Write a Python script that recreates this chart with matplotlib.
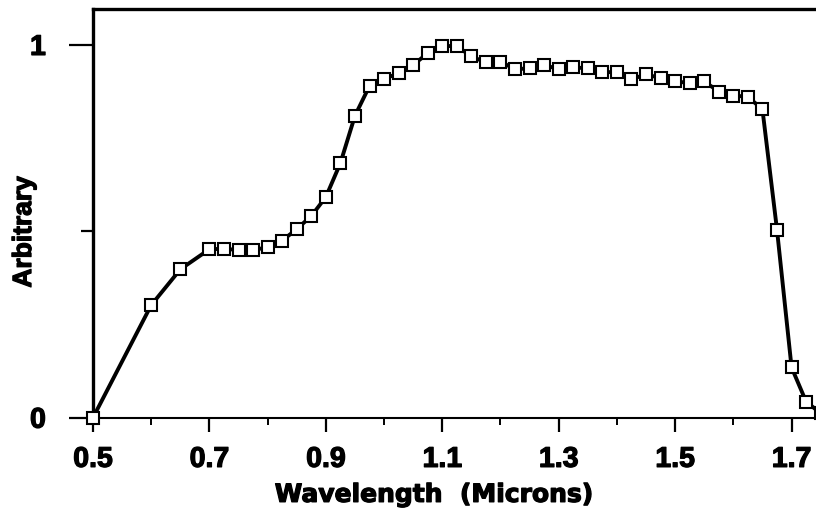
import matplotlib
matplotlib.use("Agg")
import matplotlib.pyplot as plt
import matplotlib.patheffects as pe

# data
wavelength = [0.5, 0.6, 0.65, 0.7, 0.725, 0.75, 0.775, 0.8, 0.825, 0.85,
              0.875, 0.9, 0.925, 0.95, 0.975, 1.0, 1.025, 1.05, 1.075, 1.1,
              1.125, 1.15, 1.175, 1.2, 1.225, 1.25, 1.275, 1.3, 1.325, 1.35,
              1.375, 1.4, 1.425, 1.45, 1.475, 1.5, 1.525, 1.55, 1.575, 1.6,
              1.625, 1.65, 1.675, 1.7, 1.725, 1.75]
response = [0.0, 0.302, 0.398, 0.452, 0.453, 0.450, 0.450, 0.457, 0.475, 0.506,
            0.541, 0.592, 0.683, 0.810, 0.890, 0.909, 0.924, 0.946, 0.978, 0.997,
            0.997, 0.969, 0.953, 0.955, 0.935, 0.937, 0.946, 0.935, 0.940, 0.937,
            0.927, 0.927, 0.908, 0.921, 0.911, 0.903, 0.897, 0.902, 0.875, 0.864,
            0.861, 0.827, 0.504, 0.135, 0.043, 0.012]

xticks = [0.5, 0.7, 0.9, 1.1, 1.3, 1.5, 1.7]
xticklabels = ['0.5', '0.7', '0.9', '1.1', '1.3', '1.5', '1.7']
xminor = [0.6, 0.8, 1.0, 1.2, 1.4, 1.6]
yticks = [0, 1]
yticklabels = ['0', '1']
yminor = [0.5]

font = 'Liberation Sans'
heavy = [pe.withStroke(linewidth=0.9, foreground='black')]

fig = plt.figure(figsize=(8.16, 5.11), dpi=100)
ax = fig.add_axes([93 / 816, 1 - 417.7 / 511, 1 - 93 / 816, (417.7 - 9.5) / 511])

ax.plot(wavelength, response, color='black', lw=2.8, marker='s', ms=8,
        mfc='white', mec='black', mew=1.5, clip_on=False, zorder=3)

ax.set_xlim(0.5, 1.742)
ax.set_ylim(0, 1.095)

ax.spines['right'].set_visible(False)
ax.spines['left'].set_linewidth(2.4)
ax.spines['top'].set_linewidth(2.4)
ax.spines['bottom'].set_linewidth(1.5)

ax.set_xticks(xticks)
ax.set_xticklabels(xticklabels, fontfamily=font, fontweight='bold', fontsize=20.5,
                   path_effects=heavy)
ax.set_xticks(xminor, minor=True)
ax.set_yticks(yticks)
ax.set_yticklabels(yticklabels, fontfamily=font, fontweight='bold', fontsize=20.5,
                   path_effects=heavy)
ax.set_yticks(yminor, minor=True)

ax.tick_params(axis='x', which='major', direction='out', length=10, width=1.6, pad=11)
ax.tick_params(axis='x', which='minor', direction='out', length=5, width=1.4)
ax.tick_params(axis='y', which='major', direction='out', length=17, width=1.6, pad=17)
ax.tick_params(axis='y', which='minor', direction='out', length=8.5, width=1.6)

ax.set_xlabel('Wavelength  (Microns)', fontfamily='DejaVu Sans', fontweight='bold',
              fontsize=18, va='center', path_effects=heavy)
ax.xaxis.set_label_coords(0.472, -0.189)
ax.set_ylabel('Arbitrary', fontfamily=font, fontweight='bold', fontsize=19,
              va='center', ha='center', path_effects=heavy)
ax.yaxis.set_label_coords(-0.0954, 0.455)

fig.savefig('out.png', dpi=100)
